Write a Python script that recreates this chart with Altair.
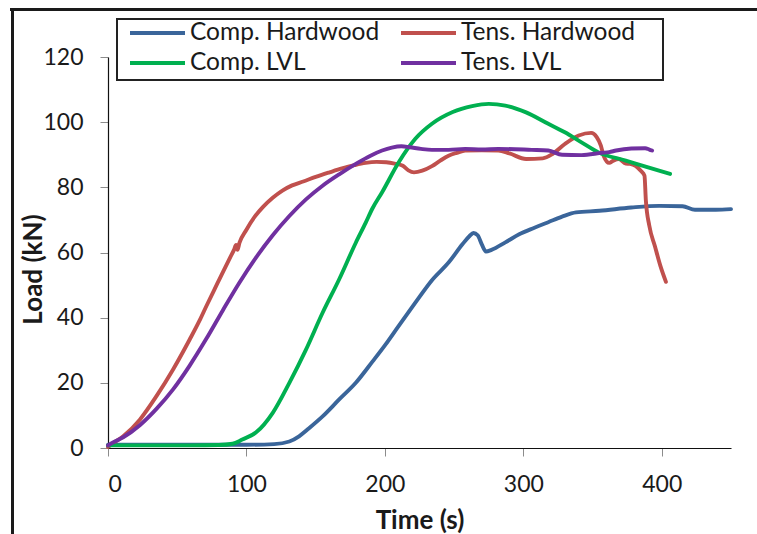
import altair as alt
import pandas as pd

# Load–time records for the four specimens
series_names = ["Comp. Hardwood", "Tens. Hardwood", "Comp. LVL", "Tens. LVL"]
series_colors = ["#3A659A", "#C0504D", "#00B050", "#7030A0"]

comp_hw_t = [0, 20, 40, 60, 80, 100, 120, 131, 138, 145, 155, 167, 179, 191, 200, 210, 222, 234, 246, 256,
             261, 264, 267, 270, 273, 277, 287, 297, 308, 318, 328, 338, 355, 378, 398, 415, 424, 439, 450]
comp_hw_load = [1.0, 1.0, 1.0, 1.0, 1.0, 1.0, 1.2, 2.0, 3.6, 6.0, 9.7, 14.9, 20.0, 26.5, 31.5, 37.5, 44.6, 51.5, 56.9, 62.5,
                65.0, 66.0, 65.3, 62.5, 60.3, 60.8, 63.1, 65.6, 67.6, 69.3, 71.0, 72.3, 72.8, 73.8, 74.3, 74.2, 73.1, 73.1, 73.3]

tens_hw_t = [0, 5, 11, 23, 35, 47, 59, 66, 71, 79, 83, 88, 91, 92.5, 93.5, 95, 100, 106, 112, 119,
             126, 133, 141, 150, 160, 169, 178, 186, 194, 201, 207, 213, 217, 221, 227, 234, 240, 246, 252, 258,
             270, 282, 290, 302, 314, 321, 330, 340, 349, 353, 356, 358, 362, 365, 369, 374, 377, 381, 385, 387.5,
             388.5, 391, 395, 399, 403]
tens_hw_load = [0.3, 1.8, 3.6, 8.7, 15.9, 24.1, 33.3, 39.0, 43.5, 50.5, 54.0, 58.3, 60.8, 62.3, 60.8, 63.0, 67.0, 71.0, 74.0, 76.8,
                79.0, 80.6, 81.8, 83.2, 84.6, 85.8, 86.8, 87.5, 87.8, 87.7, 87.3, 86.6, 85.2, 84.6, 85.1, 86.5, 88.2, 89.7, 90.6, 91.3,
                91.4, 91.3, 90.4, 88.7, 88.9, 90.2, 93.3, 95.9, 96.7, 95.4, 92.8, 89.7, 87.5, 88.2, 88.7, 87.3, 87.2, 86.6, 85.0, 83.6,
                76.0, 68.2, 62.0, 55.9, 51.0]

comp_lvl_t = [0, 20, 40, 60, 80, 90, 97, 107, 119, 131, 143, 155, 167, 179, 186, 191, 198, 210, 222, 234,
              249, 263, 275, 287, 302, 318, 330, 342, 354, 374, 398, 406]
comp_lvl_load = [0.8, 0.8, 0.8, 0.8, 0.9, 1.3, 2.6, 4.8, 10.8, 20.0, 30.2, 41.5, 51.8, 63.0, 69.0, 73.5, 78.5, 87.7, 94.9, 99.5,
                 103.1, 104.9, 105.6, 105.1, 103.0, 99.5, 96.9, 93.8, 90.8, 88.2, 85.1, 84.1]

tens_lvl_t = [0, 5, 11, 23, 35, 47, 59, 71, 83, 95, 107, 119, 131, 143, 155, 167, 179, 190, 198, 205,
              212, 218, 226, 234, 246, 258, 270, 282, 306, 318, 328, 342, 357, 362, 367, 378, 388, 391, 393]
tens_lvl_load = [0.8, 2.0, 3.3, 7.0, 12.0, 18.0, 25.3, 33.5, 42.3, 50.8, 58.5, 65.3, 71.2, 76.3, 80.5, 84.0, 87.2, 89.8, 91.3, 92.2,
                 92.6, 92.3, 91.8, 91.5, 91.5, 91.8, 91.6, 91.8, 91.5, 91.3, 90.0, 89.9, 90.6, 90.8, 91.3, 91.9, 92.0, 91.6, 91.3]

x_ticks = [0, 100, 200, 300, 400]
y_ticks = [0, 20, 40, 60, 80, 100, 120]

frames = []
for name, t, load in [
    ("Comp. Hardwood", comp_hw_t, comp_hw_load),
    ("Tens. Hardwood", tens_hw_t, tens_hw_load),
    ("Comp. LVL", comp_lvl_t, comp_lvl_load),
    ("Tens. LVL", tens_lvl_t, tens_lvl_load),
]:
    frames.append(pd.DataFrame({"series": name, "time": t, "load": load}))
data = pd.concat(frames, ignore_index=True)

FONT = "Lato"
W, H = 623, 391

color = alt.Color(
    "series:N",
    scale=alt.Scale(domain=series_names, range=series_colors),
    legend=alt.Legend(
        title=None, orient="none", legendX=20, legendY=-39,
        direction="horizontal", columns=2,
        symbolType="stroke", symbolSize=3025, symbolStrokeWidth=4,
        labelFont=FONT, labelFontSize=24.5, labelColor="#1a1a1a", labelOffset=3, labelLimit=400,
        clipHeight=30, columnPadding=19, rowPadding=0, padding=0,
    ),
)

x_enc = alt.X(
    "time:Q", scale=alt.Scale(domain=[0, 450], nice=False),
    axis=alt.Axis(values=x_ticks, title="Time (s)", titleY=80, titleBaseline="alphabetic"),
)
y_enc = alt.Y(
    "load:Q", scale=alt.Scale(domain=[0, 120], nice=False),
    axis=alt.Axis(values=y_ticks, title="Load (kN)", titleX=-75, titleY=212,
                  titleAngle=270, titleAlign="center", titleBaseline="middle"),
)

# one layer per series so later series are drawn on top
layers = []
for name in series_names:
    layers.append(
        alt.Chart(data)
        .transform_filter(alt.datum.series == name)
        .mark_line(strokeWidth=3.9, interpolate="monotone", strokeCap="round", strokeJoin="round")
        .encode(x=x_enc, y=y_enc, color=color)
    )

one = pd.DataFrame({"k": [0]})
legend_box = alt.Chart(one).mark_rect(filled=False, stroke="#222222", strokeWidth=2).encode(
    x=alt.value(9), x2=alt.value(555), y=alt.value(-38), y2=alt.value(23)
)
frame_top = alt.Chart(one).mark_rule(stroke="#1a1a1a", strokeWidth=3).encode(
    x=alt.value(-98), x2=alt.value(660), y=alt.value(-47.5)
)
frame_left = alt.Chart(one).mark_rule(stroke="#1a1a1a", strokeWidth=3).encode(
    x=alt.value(-95.5), y=alt.value(-49), y2=alt.value(500)
)

chart = (
    alt.layer(frame_top, frame_left, legend_box, *layers)
    .properties(
        width=W, height=H,
        autosize=alt.AutoSizeParams(type="none"),
        padding={"left": 108, "top": 57, "right": 26, "bottom": 86},
        background="white",
    )
    .configure_view(stroke=None)
    .configure_axis(
        grid=False,
        domainColor="#111111", domainWidth=1.2,
        tickColor="#8c8c8c", tickSize=8, tickWidth=1,
        labelFont=FONT, labelFontSize=23, labelColor="#1a1a1a", labelPadding=17,
        titleFont=FONT, titleFontSize=26, titleFontWeight="bold", titleColor="#1a1a1a",
    )
)

chart.save("out.html", embed_options={"renderer": "svg", "actions": False})
